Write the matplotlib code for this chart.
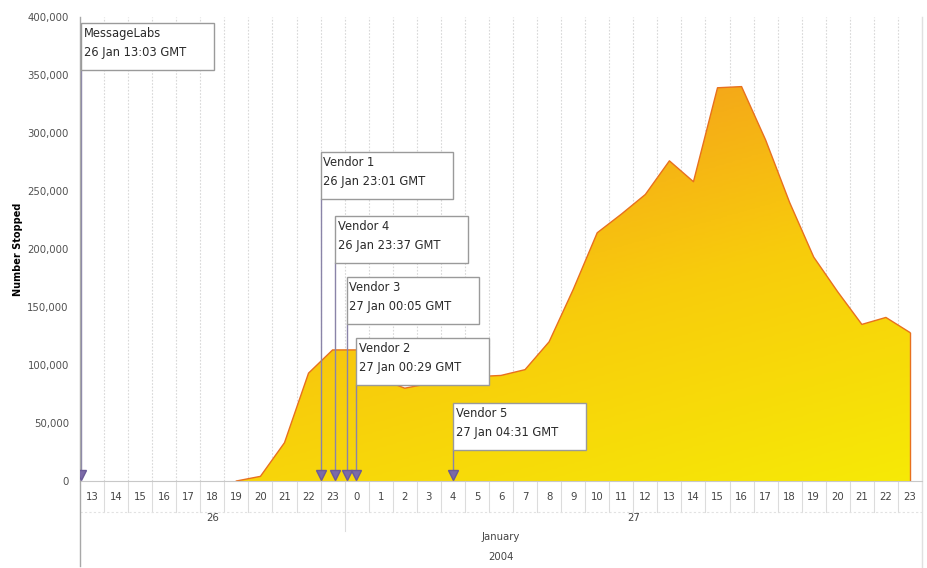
import numpy as np
import matplotlib.pyplot as plt
from matplotlib.colors import LinearSegmentedColormap
from matplotlib.patches import Rectangle, Polygon

# hourly categories, 26 Jan 13:00 to 27 Jan 23:00 GMT
hours = list(range(13, 24)) + list(range(0, 24))
days = ["26", "27"]
day_counts = [11, 24]

# number stopped per hour (None = no data yet)
stopped = [None, None, None, None, None, None,
           0, 4000, 33000, 93000, 113000,
           113000, 88000, 80000, 84000, 87000, 90000, 91000, 96000, 120000,
           165000, 214000, 230000, 247000, 276000, 258000, 339000, 340000,
           294000, 240000, 193000, 163000, 135000, 141000, 128000]

# first detection events: label, time text, hours after 26 Jan 13:00
vendors = ["MessageLabs", "Vendor 1", "Vendor 4", "Vendor 3", "Vendor 2", "Vendor 5"]
times = ["26 Jan 13:03 GMT", "26 Jan 23:01 GMT", "26 Jan 23:37 GMT",
         "27 Jan 00:05 GMT", "27 Jan 00:29 GMT", "27 Jan 04:31 GMT"]
offsets = [3 / 60, 10 + 1 / 60, 10 + 37 / 60, 11 + 5 / 60, 11 + 29 / 60, 15 + 31 / 60]
box_tops = [394800, 283600, 228400, 175800, 123300, 67200]

yticks = list(range(0, 400001, 50000))

fig = plt.figure(figsize=(9.27, 5.68), dpi=100)
ax = fig.add_axes([80 / 927, 87 / 568, 842 / 927, 464 / 568])
n = len(hours)
ax.set_xlim(0, n)
ax.set_ylim(0, 400000)

# vertical dotted grid at category boundaries
for k in range(1, n):
    ax.axvline(k, color="#d8d8d8", lw=0.8, ls=(0, (1.5, 1.5)), zorder=0)

# area with a gradient: orange towards the top left, yellow towards the bottom right
xs = [i + 0.5 for i, v in enumerate(stopped) if v is not None]
ys = [v for v in stopped if v is not None]
cmap = LinearSegmentedColormap.from_list("fill", ["#f6ea06", "#f8cc0c", "#f39a1e"])
gy, gx = np.mgrid[0:1:256j, 0:1:256j]
grad = np.clip(0.75 * gy + 0.45 * (1 - gx), 0, 1)
img = ax.imshow(grad, cmap=cmap, origin="lower", aspect="auto",
                extent=[0, n, 0, 345000], zorder=1, vmin=0, vmax=1)
poly = Polygon(list(zip([xs[0]] + xs + [xs[-1]], [0] + ys + [0])),
               closed=True, facecolor="none", edgecolor="none")
ax.add_patch(poly)
img.set_clip_path(poly)
ax.plot(xs, ys, color="#e8701e", lw=1.0, zorder=2)
ax.plot([xs[-1], xs[-1]], [0, ys[-1]], color="#e8701e", lw=1.0, zorder=2)

# annotation boxes with arrows
bw, bh = 5.5, 40500
for name, t, x, top in zip(vendors, times, offsets, box_tops):
    ax.plot([x, x], [top - bh, 9000], color="#8a84a8", lw=1.0, zorder=3)
    ax.plot([x], [5500], marker="v", ms=7, color="#7b6aa8", mec="#6a5a98", zorder=4)
    ax.add_patch(Rectangle((x, top - bh), bw, bh, facecolor="white",
                           edgecolor="#9a9a9a", lw=1.0, zorder=5))
    ax.text(x + 0.1, top - 3500, name + "\n" + t, fontsize=8.3, color="#2a2a2a",
            va="top", ha="left", linespacing=1.55, zorder=6)

# y axis
ax.set_yticks(yticks)
ax.set_yticklabels([f"{v:,}" for v in yticks], fontsize=7.3, color="#505050")
ax.tick_params(axis="y", length=0, pad=8)
ax.set_ylabel("Number Stopped", fontsize=7, fontweight="bold")
ax.yaxis.set_label_coords(-0.068, 0.5)

# x axis: hour labels, days, month, year
ax.set_xticks([])
ax.spines["top"].set_visible(False)
ax.spines["bottom"].set_color("#c8c8c8")
ax.spines["left"].set_visible(False)
ax.spines["right"].set_visible(False)

px = 1 / 464
tr = ax.get_xaxis_transform()
for i, h in enumerate(hours):
    ax.text(i + 0.5, -16 * px, str(h), transform=tr, ha="center", va="center",
            fontsize=7.3, color="#444444")
for k in range(1, n):
    ax.plot([k, k], [0, -31 * px], transform=tr, color="#dcdcdc", lw=0.8, clip_on=False)
ax.plot([0, n], [-31 * px, -31 * px], transform=tr, color="#e2e2e2", lw=0.8,
        ls=(0, (2, 2)), clip_on=False)
start = 0
for d, c in zip(days, day_counts):
    ax.text(start + c / 2, -37 * px, d, transform=tr, ha="center", va="center",
            fontsize=7.3, color="#444444")
    start += c
    if start < n:
        ax.plot([start, start], [-31 * px, -50 * px], transform=tr, color="#dcdcdc",
                lw=0.8, clip_on=False)
ax.text(n / 2, -56 * px, "January", transform=tr, ha="center", va="center",
        fontsize=7.3, color="#444444")
ax.text(n / 2, -76 * px, "2004", transform=tr, ha="center", va="center",
        fontsize=7.3, color="#444444")

# frame lines running through the label rows
ax.plot([0, 0], [1, -85 * px], transform=tr, color="#a8a8a8", lw=1.0, clip_on=False, zorder=3)
ax.plot([n, n], [1, -87 * px], transform=tr, color="#e0e0e0", lw=1.0, clip_on=False)

fig.savefig("out.png", dpi=100)
